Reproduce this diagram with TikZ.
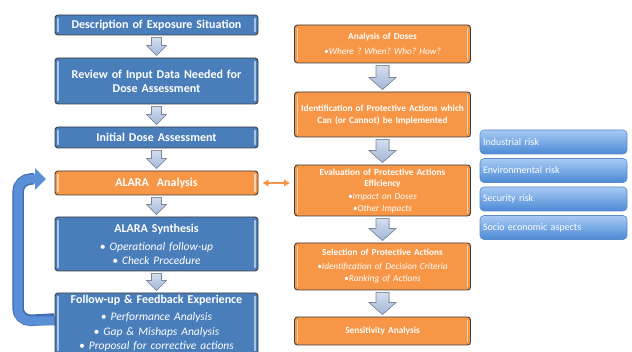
\documentclass[tikz,border=0pt]{standalone}
\usepackage{fontspec}
\setmainfont{Carlito}
\frenchspacing
\usetikzlibrary{calc,arrows.meta}
\definecolor{boxblue}{HTML}{4A7EBB}
\definecolor{boxorange}{HTML}{F79646}
\definecolor{edgegray}{HTML}{3F3F3F}
\definecolor{hlblue}{HTML}{A9C4E6}
\definecolor{hlorange}{HTML}{FCD3AE}
\definecolor{arrtop}{HTML}{D3DDEE}
\definecolor{arrbot}{HTML}{A3B7D8}
\definecolor{arredge}{HTML}{7A879B}
\definecolor{risktop}{HTML}{A8CBF3}
\definecolor{riskbot}{HTML}{4B89D6}
\definecolor{riskedge}{HTML}{5B8CCB}
\definecolor{loopblue}{HTML}{5A8FD8}
\definecolor{loopedge}{HTML}{3E6DB3}
\newcommand\blockarr[5]{%
  \filldraw[darrow] ($(#1.south)+(-#4,2)$) -- ($(#1.south)+(#4,2)$)
    -- ($(#2.north)+(#4,-2-#5)$) -- ($(#2.north)+(#3,-2-#5)$)
    -- ($(#2.north)+(0,-2)$) -- ($(#2.north)+(-#3,-2-#5)$)
    -- ($(#2.north)+(-#4,-2-#5)$) -- cycle;}
\newcommand\hlbars[2]{%
  \draw[#2, line width=1.3pt, line cap=round]
    ([xshift=3.5pt,yshift=-4pt]#1.north west) -- ([xshift=3.5pt,yshift=4pt]#1.south west);
  \draw[#2, line width=1.3pt, line cap=round]
    ([xshift=-3.5pt,yshift=-4pt]#1.north east) -- ([xshift=-3.5pt,yshift=4pt]#1.south east);}
\tikzset{
  lbox/.style={draw=edgegray, line width=0.9pt, rounded corners=3pt,
    minimum width=203pt, text width=200pt, align=center, text=white, inner sep=0pt,
    font=\bfseries\fontsize{12}{14}\selectfont},
  rbox/.style={draw=edgegray, line width=0.9pt, rounded corners=3pt,
    minimum width=176pt, text width=174pt, align=center, text=white, inner sep=0pt,
    font=\bfseries\fontsize{9.3}{12}\selectfont, fill=boxorange},
  bl/.style={fill=boxblue},
  og/.style={fill=boxorange},
  risk/.style={draw=riskedge, line width=0.6pt, rounded corners=4pt, top color=risktop,
    bottom color=riskbot, minimum width=147pt, minimum height=24pt, text width=141pt,
    inner sep=0pt, align=left, text=white, font=\fontsize{10}{11}\selectfont},
  darrow/.style={top color=arrtop, bottom color=arrbot, draw=arredge, line width=0.6pt},
}
\begin{document}
\begin{tikzpicture}[x=1pt,y=-1pt]
\useasboundingbox (0,0) rectangle (632,352);
\clip (0,0) rectangle (632,352);
\fill[white] (0,0) rectangle (632,352);

% left column
\node[lbox,bl,minimum height=20pt] (desc) at (156.5,25) {Description of Exposure Situation};
\node[lbox,bl,minimum height=46pt] (rev) at (156.5,81) {Review of Input Data Needed for\\Dose Assessment};
\node[lbox,bl,minimum height=21pt] (init) at (156.5,137.5) {Initial Dose Assessment};
\node[lbox,og,minimum height=24pt] (alara) at (156.5,183) {ALARA\ \ Analysis};
\node[lbox,bl,minimum height=54pt] (synth) at (156.5,244)
  {ALARA Synthesis\\[3pt]{\mdseries\itshape\fontsize{11.5}{15}\selectfont • Operational follow-up\\• Check Procedure}};

% loop arrow
\draw[loopedge, line width=11.5pt, rounded corners=13pt]
  ([yshift=2pt]desc.west |- 0,321) -- (18,321) -- (18,179) -- (34,179);
\draw[loopblue, line width=9pt, rounded corners=12pt, -{Triangle[width=21pt,length=11pt]}]
  (56,321) -- (18,321) -- (18,179) -- (46,179);

\node[lbox,bl,minimum height=61pt] (fu) at (156.5,323.5)
  {Follow-up \& Feedback Experience\\[2pt]{\mdseries\itshape\fontsize{11.5}{15}\selectfont • Performance Analysis\\• Gap \& Mishaps Analysis\\• Proposal for corrective actions}};

\foreach \n in {desc,rev,init,synth,fu} {\hlbars{\n}{hlblue}}
\hlbars{alara}{hlorange}

\blockarr{desc}{rev}{10}{5}{10}
\blockarr{rev}{init}{10}{5}{10}
\blockarr{init}{alara}{10}{5}{10}
\blockarr{alara}{synth}{10}{5}{10}
\blockarr{synth}{fu}{10}{5}{10}

% right column
\node[rbox,minimum height=38pt] (doses) at (382.5,44)
  {Analysis of Doses\\[3pt]{\mdseries\itshape •Where ? When? Who? How?}};
\node[rbox,minimum height=45pt] (ident) at (382.5,114.5)
  {Identification of Protective Actions which\\Can (or Cannot) be Implemented};
\node[rbox,minimum height=51pt] (eval) at (382.5,190.5)
  {Evaluation of Protective Actions\\[-1pt]Efficiency\\[1pt]{\mdseries\itshape •Impact on Doses\\•Other Impacts}};
\node[rbox,minimum height=47pt] (sel) at (382.5,266.5)
  {Selection of Protective Actions\\[3pt]{\mdseries\itshape\fontsize{9.3}{11}\selectfont •Identification of Decision Criteria\\•Ranking of Actions}};
\node[rbox,minimum height=28pt] (sens) at (382.5,331) {Sensitivity Analysis};

\foreach \n in {doses,ident,eval,sel,sens} {\hlbars{\n}{hlorange}}

\blockarr{doses}{ident}{13.5}{6.5}{12}
\blockarr{ident}{eval}{13.5}{6.5}{12}
\blockarr{eval}{sel}{13.5}{6.5}{12}
\blockarr{sel}{sens}{13.5}{6.5}{12}

% double arrow
\draw[boxorange, line width=2.2pt, {Latex[length=6pt,width=8pt]}-{Latex[length=6pt,width=8pt]}]
  ([xshift=4pt]alara.east) -- ([xshift=-4pt]alara.east -| eval.west);

% risk boxes
\node[risk] (ind) at (553.5,142) {Industrial risk};
\node[risk] (env) at (553.5,170.5) {Environmental risk};
\node[risk] (sec) at (553.5,199) {Security risk};
\node[risk] (soc) at (553.5,227.5) {Socio economic aspects};
\end{tikzpicture}
\end{document}
